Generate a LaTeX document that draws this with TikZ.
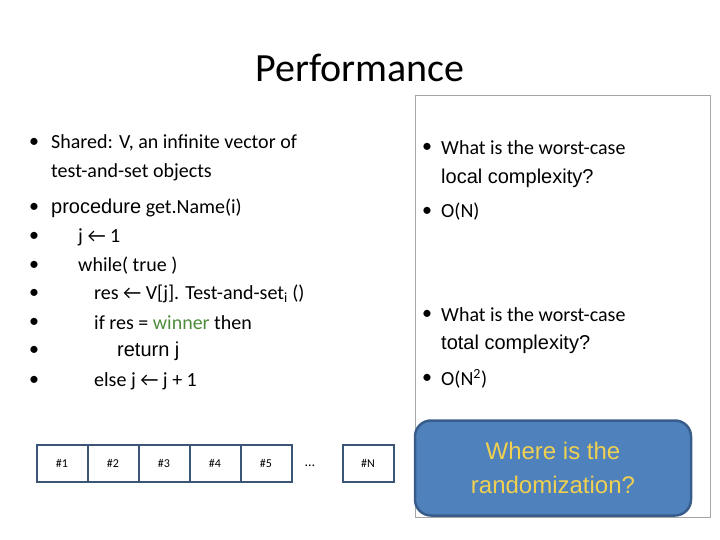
\documentclass[tikz,border=0pt]{standalone}
\usepackage{fontspec}
\setmainfont{Carlito}
\newfontfamily\arialf{Liberation Sans}
\definecolor{boxblue}{HTML}{4F81BD}
\definecolor{boxedge}{HTML}{385D8A}
\definecolor{gold}{HTML}{F0D050}
\definecolor{wgreen}{HTML}{4E8B3A}
\definecolor{celledge}{HTML}{3B5576}
\begin{document}
\begin{tikzpicture}[x=1pt,y=-1pt,
  txt/.style={anchor=west,inner sep=0pt,font=\fontsize{20}{24}\selectfont},
  bul/.style={anchor=center,inner sep=0pt,font=\fontsize{20}{24}\selectfont},
  cell/.style={draw=celledge,line width=2pt,minimum width=51pt,minimum height=37pt,inner sep=0pt,font=\fontsize{12}{14}\selectfont}]
\useasboundingbox (0,0) rectangle (720,540);
\node[inner sep=0pt,font=\fontsize{40}{46}\selectfont] (title) at (360,68) {Performance};
% left list
\foreach \y/\n in {143/b1,208/b2,237/b3,266/b4,294/b5,323/b6,351/b7,381/b8}
  \node[bul] (\n) at (34,\y) {•};
\node[txt] (l1) at (51,143) {Shared: V, an infinite vector of};
\node[txt] (l2) at (51,172) {test-and-set objects};
\node[txt] (l3) at (51,208) {{\arialf procedure} get.Name(i)};
\node[txt] (l4) at (78,237) {j ← 1};
\node[txt] (l5) at (78,266) {while( true )};
\node[txt] (l6) at (94,294) {res ← V[j]. Test-and-set\textsubscript{i} ()};
\node[txt] (l7) at (94,323) {if res = \textcolor{wgreen}{winner} then};
\node[txt] (l8) at (117,351) {{\arialf return j}};
\node[txt] (l9) at (94,381) {else j ← j + 1};
% right panel
\draw[gray!70] (415,95) rectangle (710,517);
\node[bul] (r1b) at (427,148) {•};
\node[txt] (r1) at (441,148) {What is the worst-case};
\node[txt] (r2) at (441,178) {{\arialf local complexity?}};
\node[bul] (r3b) at (427,212) {•};
\node[txt] (r3) at (441,212) {O(N)};
\node[bul] (r4b) at (427,315) {•};
\node[txt] (r4) at (441,315) {What is the worst-case};
\node[txt] (r5) at (441,344) {{\arialf total complexity?}};
\node[bul] (r6b) at (427,379) {•};
\node[txt] (r6) at (441,379) {O(N\textsuperscript{2})};
\node[draw=boxedge,line width=2.5pt,fill=boxblue,rounded corners=16pt,minimum width=276pt,minimum height=95pt,
  text=gold,align=center,font=\arialf\fontsize{24}{34}\selectfont] (rand) at (553,468) {Where is the\\randomization?};
% cells
\foreach \i/\x in {1/62,2/113,3/164,4/215,5/266}
  \node[cell] (c\i) at (\x,463) {\#\i};
\node[inner sep=0pt,font=\fontsize{14}{16}\selectfont] (dots) at (310,466) {…};
\node[cell] (cN) at (368,463) {\#N};
\end{tikzpicture}
\end{document}
